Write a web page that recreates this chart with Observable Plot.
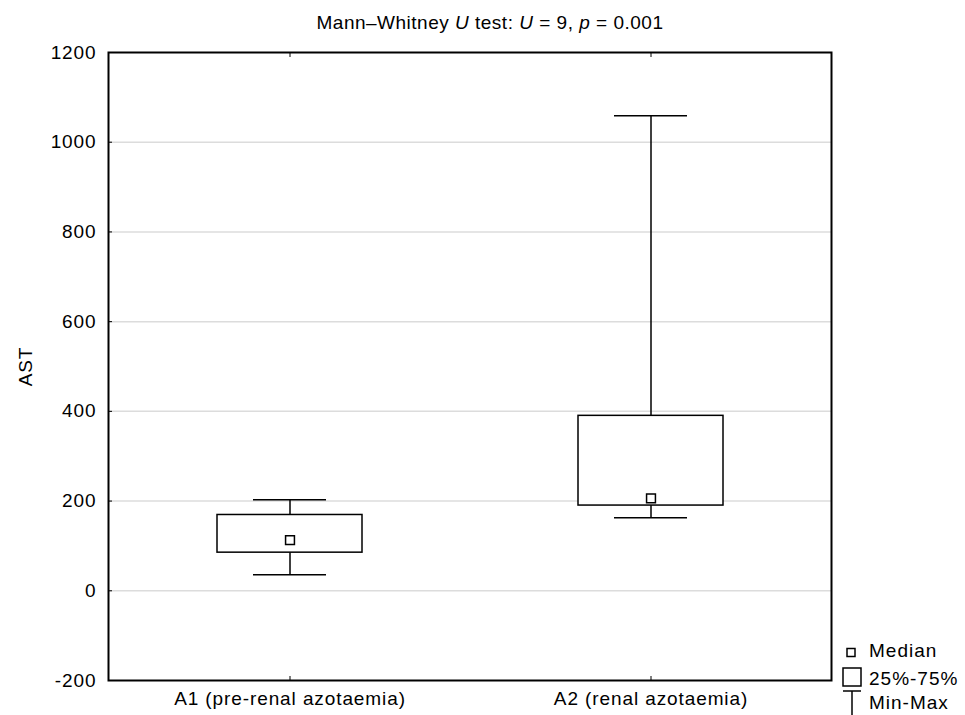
<!DOCTYPE html>
<html>
<head>
<meta charset="utf-8">
<script src="https://cdn.jsdelivr.net/npm/d3@7"></script>
<script src="https://cdn.jsdelivr.net/npm/@observablehq/plot@0.6"></script>
<style>
  body { margin: 0; background: #fff; }
  #wrap { position: relative; width: 965px; height: 715px; font-family: "Liberation Sans", Arial, sans-serif; color: #000; }
  #title { position: absolute; top: 12px; left: 0; width: 980px; text-align: center; font-size: 19px; letter-spacing: 0.5px; }
  #legend { position: absolute; left: 838px; top: 640px; }
  #legend text { font-size: 19px; letter-spacing: 1px; font-family: "Liberation Sans", Arial, sans-serif; }
</style>
</head>
<body>
<div id="wrap">
  <div id="title">Mann–Whitney <i>U</i> test: <i>U</i> = 9, <i>p</i> = 0.001</div>
  <div id="chart"></div>
  <svg id="legend" width="127" height="75">
    <rect x="9" y="8.5" width="8" height="8" fill="white" stroke="black" stroke-width="1.5"></rect>
    <text x="31" y="17">Median</text>
    <rect x="5" y="28" width="18" height="18" fill="white" stroke="black" stroke-width="1.5"></rect>
    <text x="31" y="45">25%-75%</text>
    <line x1="5" x2="23" y1="51" y2="51" stroke="black" stroke-width="1.5"></line>
    <line x1="14" x2="14" y1="51" y2="75" stroke="black" stroke-width="1.5"></line>
    <text x="31" y="69">Min-Max</text>
  </svg>
</div>
<script>
const categories = ["A1 (pre-renal azotaemia)", "A2 (renal azotaemia)"];
const mins    = [36, 163];
const q1s     = [85, 190];
const medians = [113, 206];
const q3s     = [169, 390];
const maxs    = [203, 1059];
const yTicks    = [-200, 0, 200, 400, 600, 800, 1000, 1200];
const gridTicks = [0, 200, 400, 600, 800, 1000];

const data = categories.map((c, i) => ({
  cat: c, min: mins[i], q1: q1s[i], median: medians[i], q3: q3s[i], max: maxs[i]
}));

const chart = Plot.plot({
  width: 965,
  height: 715,
  marginLeft: 108,
  marginRight: 134,
  marginTop: 52,
  marginBottom: 35,
  style: { fontFamily: "'Liberation Sans', Arial, sans-serif", fontSize: "19px", letterSpacing: "0.9px", color: "#000", background: "#fff" },
  x: { type: "band", domain: categories, padding: 0 },
  y: { domain: [-200, 1200] },
  marks: [
    Plot.ruleY(gridTicks, { stroke: "#dcdcdc", strokeWidth: 1.5 }),
    Plot.ruleX(data, { x: "cat", y1: "min", y2: "q1", stroke: "black", strokeWidth: 1.5 }),
    Plot.ruleX(data, { x: "cat", y1: "q3", y2: "max", stroke: "black", strokeWidth: 1.5 }),
    Plot.barY(data, { x: "cat", y1: "q1", y2: "q3", fill: "white", stroke: "black", strokeWidth: 1.5, insetLeft: 108, insetRight: 108 }),
    Plot.tickY(data, { x: "cat", y: "min", stroke: "black", strokeWidth: 1.5, insetLeft: 144, insetRight: 144 }),
    Plot.tickY(data, { x: "cat", y: "max", stroke: "black", strokeWidth: 1.5, insetLeft: 144, insetRight: 144 }),
    Plot.dot(data, { x: "cat", y: "median", symbol: "square", r: 5, fill: "white", stroke: "black", strokeWidth: 1.5 }),
    Plot.frame({ stroke: "black", strokeWidth: 2 }),
    Plot.axisY({ ticks: yTicks, tickFormat: d => String(d), tickSize: 4, insetLeft: 4, tickPadding: 12, label: "AST", labelArrow: "none", labelAnchor: "center", labelOffset: 90 }),
    Plot.axisX({ anchor: "bottom", tickSize: 4, insetBottom: 4, tickPadding: 11, label: null }),
    Plot.axisX({ anchor: "top", tickSize: 4, insetTop: 4, tickFormat: () => "", label: null })
  ]
});
document.getElementById("chart").appendChild(chart);
</script>
</body>
</html>
